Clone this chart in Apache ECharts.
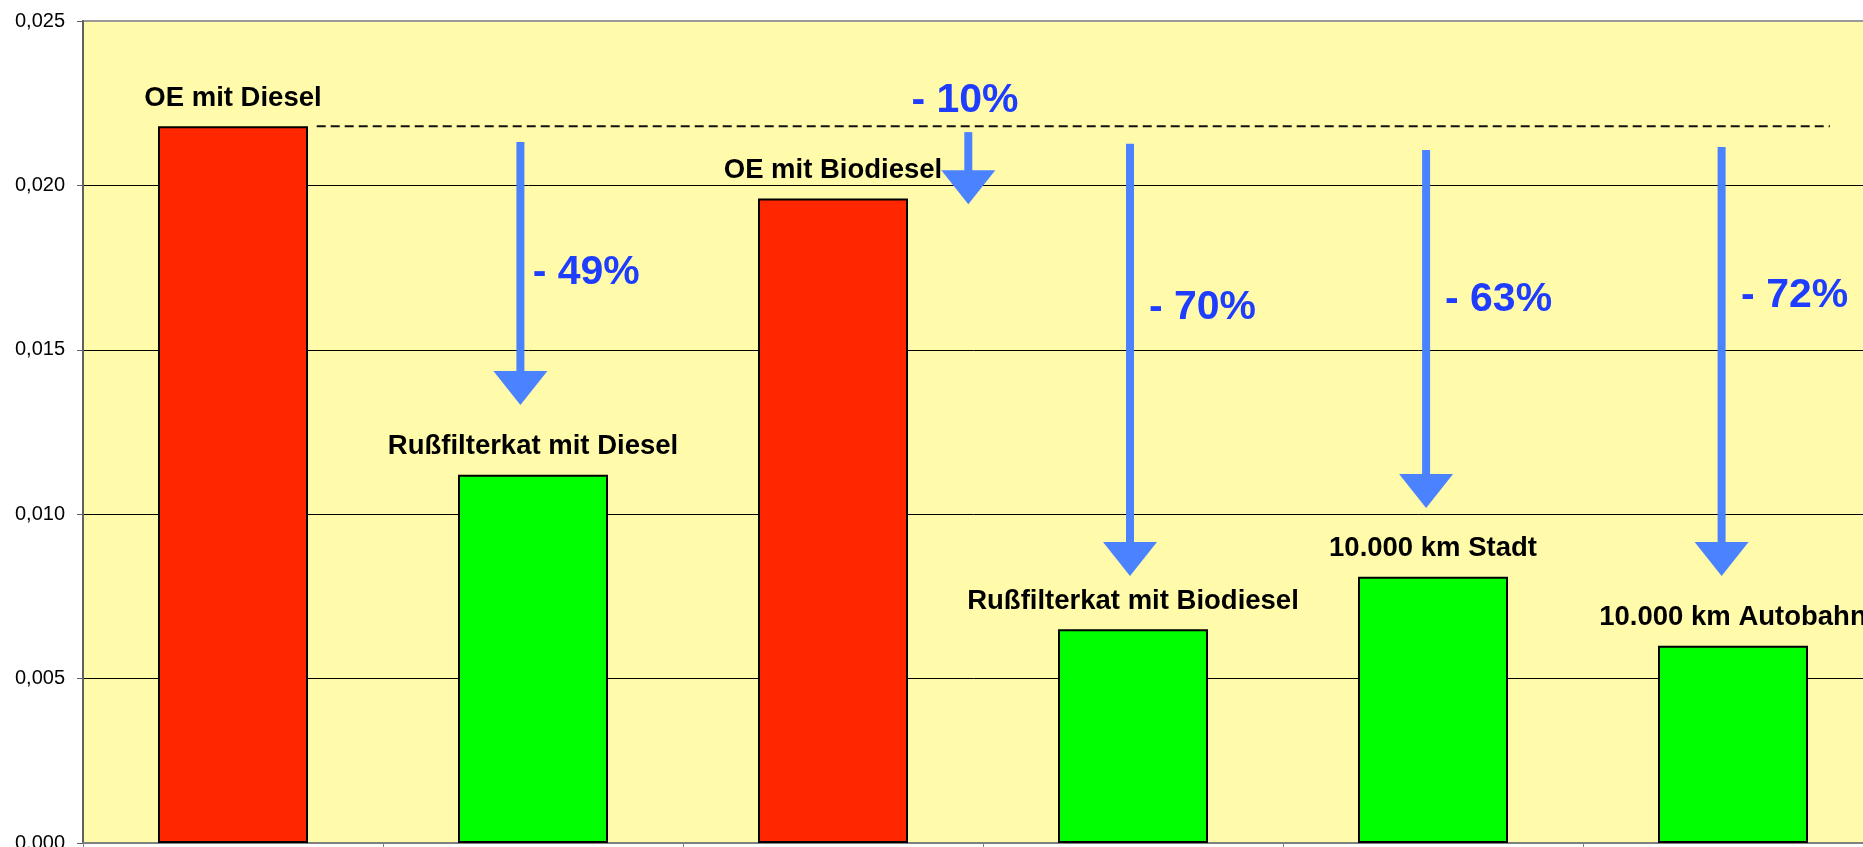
<!DOCTYPE html>
<html>
<head>
<meta charset="utf-8">
<script src="https://cdn.jsdelivr.net/npm/echarts@6/dist/echarts.min.js"></script>
<style>
  html, body { margin: 0; padding: 0; background: #ffffff; }
  #chart { width: 1863px; height: 847px; }
</style>
</head>
<body>
<div id="chart"></div>
<script>
// ---------- DATA ----------
const categories = ['OE mit Diesel', 'Rußfilterkat mit Diesel', 'OE mit Biodiesel', 'Rußfilterkat mit Biodiesel', '10.000 km Stadt', '10.000 km Autobahn'];
const values = [0.0218, 0.0112, 0.0196, 0.0065, 0.0081, 0.0060];
const isOE = [true, false, true, false, false, false];

const yMin = 0;
const yMax = 0.025;
const yStep = 0.005;

// reduction arrows (x in category-index units from the left edge of the plot, y in data units)
const arrowLabels = ['- 49%', '- 10%', '- 70%', '- 63%', '- 72%'];
const arrowX = [1.458, 2.951, 3.490, 4.477, 5.462];
const arrowFrom = [0.02132, 0.02162, 0.02127, 0.02108, 0.02117];
const arrowTo = [0.01332, 0.01943, 0.00812, 0.01019, 0.00812];
const arrowLabelX = [1.499, 2.940, 3.553, 4.540, 5.527];
const arrowLabelY = [0.01735, 0.02258, 0.01628, 0.01652, 0.01666];
const arrowLabelAnchor = ['left', 'center', 'left', 'left', 'left'];

// dashed reference line at the "OE mit Diesel" level
const refLineX = [0.779, 5.823];
const refLineValue = values[0];

// ---------- STYLE ----------
const FONT = '"Liberation Sans", Arial, Helvetica, sans-serif';
const RED = '#ff2600';
const GREEN = '#00ff00';
const ARROW_COLOR = '#4a82ff';
const PCT_COLOR = '#1f3dff';
const PLOT_BG = '#fffbaa';

const chart = echarts.init(document.getElementById('chart'), null, { renderer: 'canvas' });

const option = {
  animation: false,
  backgroundColor: '#ffffff',
  grid: {
    left: 83, top: 21, width: 1800, height: 822,
    show: true, backgroundColor: PLOT_BG, borderColor: '#999999', borderWidth: 2,
    containLabel: false, outerBoundsMode: 'none'
  },
  xAxis: [
    {
      type: 'category', data: categories, boundaryGap: true,
      axisLine: { show: true, lineStyle: { color: '#808080', width: 2 } },
      axisTick: { show: true, length: 8, lineStyle: { color: '#808080', width: 1 } },
      axisLabel: { show: false },
      splitLine: { show: false }
    },
    {
      type: 'value', min: 0, max: categories.length, show: false,
      splitLine: { show: false }
    }
  ],
  yAxis: {
    type: 'value', min: yMin, max: yMax, interval: yStep,
    axisLine: { show: true, lineStyle: { color: '#606060', width: 2 } },
    axisTick: { show: true, length: 6, lineStyle: { color: '#606060', width: 1 } },
    axisLabel: {
      margin: 18, color: '#000', fontFamily: FONT, fontSize: 20,
      formatter: v => v.toFixed(3).replace('.', ',')
    },
    splitLine: { show: true, showMaxLine: false, showMinLine: false, lineStyle: { color: '#000', width: 1 } }
  },
  series: [
    {
      type: 'bar', xAxisIndex: 0, barWidth: '50%', z: 2,
      data: values.map((v, i) => ({
        value: v,
        itemStyle: { color: isOE[i] ? RED : GREEN, borderColor: '#000', borderWidth: 2 }
      })),
      label: {
        show: true, position: 'top', distance: 14, formatter: '{b}',
        color: '#000', fontFamily: FONT, fontWeight: 'bold', fontSize: 27.5
      }
    },
    {
      type: 'line', xAxisIndex: 1, z: 3, symbol: 'none', silent: true,
      data: refLineX.map(x => [x, refLineValue]),
      lineStyle: { color: '#111', width: 2, type: [9, 5] }
    },
    {
      type: 'custom', xAxisIndex: 1, z: 5, silent: true,
      data: arrowX.map((x, i) => [x, arrowFrom[i], arrowTo[i]]),
      renderItem: function (params, api) {
        const i = params.dataIndex;
        const top = api.coord([api.value(0), api.value(1)]);
        const tip = api.coord([api.value(0), api.value(2)]);
        const headH = 34, headHalf = 27, shaftW = 8;
        const lab = api.coord([arrowLabelX[i], arrowLabelY[i]]);
        return {
          type: 'group',
          children: [
            {
              type: 'rect',
              shape: { x: top[0] - shaftW / 2, y: top[1], width: shaftW, height: tip[1] - headH - top[1] + 1 },
              style: { fill: ARROW_COLOR }
            },
            {
              type: 'polygon',
              shape: { points: [[tip[0] - headHalf, tip[1] - headH], [tip[0] + headHalf, tip[1] - headH], [tip[0], tip[1]]] },
              style: { fill: ARROW_COLOR }
            },
            {
              type: 'text',
              x: lab[0], y: lab[1],
              style: {
                text: arrowLabels[i], fill: PCT_COLOR,
                font: 'bold 41px ' + FONT,
                align: arrowLabelAnchor[i], verticalAlign: 'middle'
              }
            }
          ]
        };
      }
    }
  ]
};

chart.setOption(option);
</script>
</body>
</html>
